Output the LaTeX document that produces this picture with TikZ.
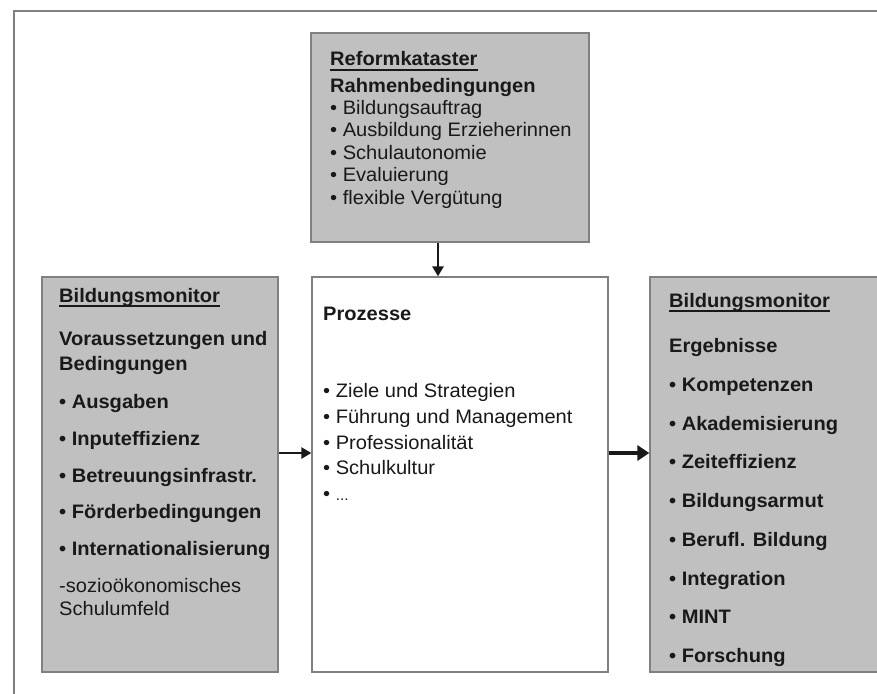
\documentclass[tikz,border=0pt]{standalone}
\usepackage{fontspec}
\setmainfont[FakeStretch=1.03]{Liberation Sans}
\usetikzlibrary{arrows.meta}
\definecolor{boxgray}{RGB}{192,192,192}
\definecolor{edgegray}{RGB}{128,128,128}
\definecolor{txt}{RGB}{25,25,25}
\begin{document}
\begin{tikzpicture}[x=1pt,y=-1pt,
  panel/.style={draw=edgegray, line width=1.3pt, inner sep=0pt, minimum height=395pt},
  graypanel/.style={panel, fill=boxgray},
  tx/.style={anchor=base west, inner sep=0pt, text=txt, font=\fontsize{19.5}{22}\selectfont},
  bx/.style={tx, font=\fontsize{19.5}{22}\selectfont\bfseries},
  ul/.style={line width=1.4pt, draw=txt},
  arr/.style={draw=txt, line width=2.8pt, -{Triangle[length=10pt,width=11pt]}},
  bigarr/.style={draw=txt, line width=4.5pt, -{Triangle[length=12pt,width=15pt]}}]
\useasboundingbox (0,0) rectangle (877,693);
\fill[white] (0,0) rectangle (877,693);
% outer frame
\draw[edgegray, line width=1.2pt] (14,700) -- (14,11) -- (880,11);
% boxes
\node[graypanel, minimum width=278pt, minimum height=209pt] (top) at (450,137.5) {};
\node[graypanel, minimum width=236pt] (left) at (160,474.5) {};
\node[panel, fill=white, minimum width=296pt] (mid) at (460,474.5) {};
\node[graypanel, minimum width=240pt] (right) at (770,474.5) {};
% top text
\node[bx] (t1) at (330,66) {Reformkataster};
\draw[ul] ([yshift=-4pt]t1.base west) -- ([yshift=-4pt]t1.base east);
\node[bx] (t2) at (330,92) {Rahmenbedingungen};
\node[tx] (t3) at (330,114) {• Bildungsauftrag};
\node[tx] (t4) at (330,136.5) {• Ausbildung Erzieherinnen};
\node[tx] (t5) at (330,159) {• Schulautonomie};
\node[tx] (t6) at (330,181.5) {• Evaluierung};
\node[tx] (t7) at (330,204) {• flexible Vergütung};
% left text
\node[bx] (l1) at (59,302) {Bildungsmonitor};
\draw[ul] ([yshift=-4pt]l1.base west) -- ([yshift=-4pt]l1.base east);
\node[bx] (l2) at (59,345) {Voraussetzungen und};
\node[bx] (l3) at (59,370) {Bedingungen};
\node[bx] (l4) at (59,408) {• Ausgaben};
\node[bx] (l5) at (59,445) {• Inputeffizienz};
\node[bx] (l6) at (59,482) {• Betreuungsinfrastr.};
\node[bx] (l7) at (59,518) {• Förderbedingungen};
\node[bx] (l8) at (59,555) {• Internationalisierung};
\node[tx] (l9) at (59,592) {-sozioökonomisches};
\node[tx] (l10) at (59,615) {Schulumfeld};
% middle text
\node[bx] (m1) at (323,320) {Prozesse};
\node[tx] (m2) at (323,397) {• Ziele und Strategien};
\node[tx] (m3) at (323,423) {• Führung und Management};
\node[tx] (m4) at (323,449) {• Professionalität};
\node[tx] (m5) at (323,474.5) {• Schulkultur};
\node[tx] (m6) at (323,500) {• \fontsize{15}{16}\selectfont ...};
% right text
\node[bx] (r1) at (669,307) {Bildungsmonitor};
\draw[ul] ([yshift=-4pt]r1.base west) -- ([yshift=-4pt]r1.base east);
\node[bx] (r2) at (669,352) {Ergebnisse};
\node[bx] (r3) at (669,391) {• Kompetenzen};
\node[bx] (r4) at (669,430) {• Akademisierung};
\node[bx] (r5) at (669,468) {• Zeiteffizienz};
\node[bx] (r6) at (669,507) {• Bildungsarmut};
\node[bx] (r7) at (669,546) {• Berufl. Bildung};
\node[bx] (r8) at (669,585) {• Integration};
\node[bx] (r9) at (669,623) {• MINT};
\node[bx] (r10) at (669,662) {• Forschung};
% arrows
\draw[arr] ([xshift=-12pt]top.south) -- ([xshift=-12pt]top.south |- mid.north);
\draw[arr] ([yshift=21.5pt]left.east) -- ([yshift=21.5pt]mid.west);
\draw[bigarr] ([yshift=21.5pt]mid.east) -- ([yshift=21.5pt]right.west);
\end{tikzpicture}
\end{document}
